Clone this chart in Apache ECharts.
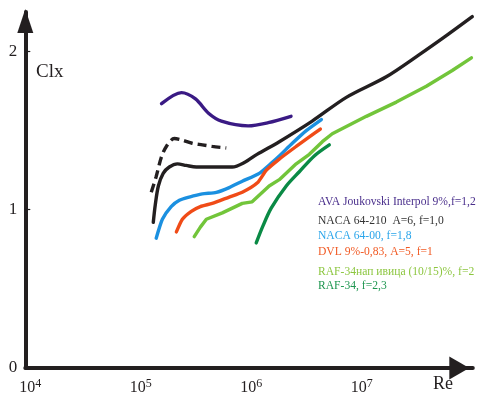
<!DOCTYPE html>
<html>
<head>
<meta charset="utf-8">
<script src="https://cdn.jsdelivr.net/npm/echarts@6/dist/echarts.min.js"></script>
<style>html,body{margin:0;padding:0;background:#fff}#c{width:479px;height:396px}</style>
</head>
<body>
<div id="c"></div>
<script>
// Re values and Clx values
const reAVA = [1.71e5, 2.59e5, 3.47e5, 4.55e5, 5.96e5, 1.04e6, 1.58e6, 2.54e6];
const clAVA = [1.67, 1.74, 1.70, 1.61, 1.56, 1.53, 1.55, 1.59];

const reN210 = [1.44e5, 1.50e5, 1.60e5, 1.77e5, 2.01e5, 2.38e5, 2.86e5, 3.53e5, 4.92e5, 7.46e5, 9.70e5, 1.25e6, 1.99e6, 3.95e6, 8.04e6, 1.85e7, 3.68e7, 6.46e7, 1.11e8];
const clN210 = [0.92, 1.03, 1.15, 1.23, 1.27, 1.29, 1.28, 1.27, 1.27, 1.27, 1.30, 1.35, 1.43, 1.56, 1.71, 1.84, 1.98, 2.10, 2.22];

const reN210d = [1.38e5, 1.53e5, 1.70e5, 1.89e5, 2.23e5, 2.64e5, 3.24e5, 4.00e5, 4.92e5, 6.59e5];
const clN210d = [1.11, 1.21, 1.33, 1.40, 1.45, 1.44, 1.42, 1.41, 1.40, 1.39];

const reN00 = [1.53e5, 1.74e5, 2.09e5, 2.48e5, 3.05e5, 4.00e5, 5.36e5, 7.01e5, 9.20e5, 1.31e6, 1.72e6, 1.99e6, 2.61e6, 3.49e6, 4.78e6];
const clN00 = [0.82, 0.94, 1.02, 1.06, 1.08, 1.10, 1.11, 1.14, 1.18, 1.23, 1.30, 1.34, 1.42, 1.50, 1.57];

const reDVL = [2.33e5, 2.64e5, 3.18e5, 3.84e5, 4.92e5, 7.01e5, 9.20e5, 1.26e6, 1.52e6, 1.99e6, 2.83e6, 3.72e6, 4.68e6];
const clDVL = [0.86, 0.94, 0.99, 1.02, 1.04, 1.08, 1.11, 1.17, 1.25, 1.32, 1.40, 1.46, 1.51];

const reRAFn = [3.38e5, 3.84e5, 4.35e5, 6.07e5, 9.20e5, 1.13e6, 1.61e6, 1.99e6, 2.83e6, 3.72e6, 4.88e6, 6.00e6, 1.22e7, 2.28e7, 4.26e7, 7.31e7, 1.09e8];
const clRAFn = [0.83, 0.89, 0.94, 0.98, 1.04, 1.05, 1.15, 1.19, 1.29, 1.35, 1.43, 1.48, 1.59, 1.68, 1.78, 1.88, 1.96];

const reRAF = [1.23e6, 1.40e6, 1.68e6, 2.30e6, 3.02e6, 4.12e6, 5.64e6];
const clRAF = [0.79, 0.89, 1.01, 1.15, 1.24, 1.34, 1.41];

const names = [
  'AVA Joukovski Interpol 9%,f=1,2',
  'NACA 64-210  A=6, f=1,0',
  'NACA 64-00, f=1,8',
  'DVL 9%-0,83, A=5, f=1',
  'RAF-34нап ивица (10/15)%, f=2',
  'RAF-34, f=2,3'
];
const yTicks = [0, 1, 2];
const xTickExps = [4, 5, 6, 7];

const lineColors = ['#3a1a84', '#231f20', '#1b90e0', '#f04b17', '#72c53a', '#0a8a45'];
const textColors = ['#4a2f8c', '#333333', '#2aa5ea', '#f15a24', '#8cc63f', '#1e9650'];
const legendTops = [195, 214, 229, 245, 265, 279];

function zip(xs, ys) { return xs.map((x, i) => [x, ys[i]]); }

const chart = echarts.init(document.getElementById('c'), null, {renderer: 'canvas'});
const serif = 'Liberation Serif';

function mkSeries(name, xs, ys, color, extra) {
  return Object.assign({
    name: name, type: 'line', data: zip(xs, ys), symbol: 'none', smooth: 0.3,
    lineStyle: {color: color, width: 3.4, cap: 'round'}, itemStyle: {color: color},
    clip: false
  }, extra || {});
}

const option = {
  animation: false,
  backgroundColor: '#fff',
  grid: {left: 25.3, right: 6.2, top: 11.9, bottom: 27.5},
  xAxis: {
    type: 'log', logBase: 10, min: 1e4, max: Math.pow(10, 8.05), interval: 1,
    axisLine: {show: true, lineStyle: {color: '#231f20', width: 4},
      symbol: ['none', 'triangle'], symbolSize: [23, 20], symbolOffset: [0, -13.5]},
    axisTick: {show: false},
    splitLine: {show: false},
    axisLabel: {
      margin: 10, showMaxLabel: false,
      formatter: function (v) {
        const e = Math.round(Math.log10(v));
        if (Math.abs(Math.log10(v) - e) > 1e-6 || xTickExps.indexOf(e) < 0) return '';
        return '{b|10}{s|' + e + '}';
      },
      rich: {
        b: {fontFamily: serif, fontSize: 16, lineHeight: 20, color: '#231f20', padding: [0, 0, 0, 10]},
        s: {fontFamily: serif, fontSize: 12, lineHeight: 10, verticalAlign: 'top', color: '#231f20'}
      }
    }
  },
  yAxis: {
    type: 'value', min: 0, max: 2.25, interval: 1,
    axisLine: {show: true, lineStyle: {color: '#231f20', width: 4},
      symbol: ['none', 'triangle'], symbolSize: [16, 24], symbolOffset: [0, -9]},
    axisTick: {show: true, inside: true, length: 5, lineStyle: {color: '#231f20', width: 1.2}},
    splitLine: {show: false},
    axisLabel: {
      margin: 8, showMaxLabel: false, fontFamily: serif, fontSize: 17, color: '#231f20',
      formatter: function (v) { return yTicks.indexOf(v) >= 0 ? String(v) : ''; }
    }
  },
  legend: names.map(function (n, i) {
    return {
      data: [{name: n, textStyle: {color: textColors[i]}}],
      orient: 'vertical', left: 313, top: legendTops[i], padding: 0,
      itemWidth: 0, itemHeight: 0, icon: 'rect', selectedMode: false,
      textStyle: {fontFamily: serif, fontSize: 11.6, lineHeight: 14, color: textColors[i]}
    };
  }),
  graphic: [
    {type: 'text', left: 36, top: 63, style: {text: 'Clx', font: '19px "Liberation Serif"', fill: '#231f20'}},
    {type: 'text', left: 433, top: 375, style: {text: 'Re', font: '18px "Liberation Serif"', fill: '#231f20'}}
  ],
  series: [
    mkSeries(names[0], reAVA, clAVA, lineColors[0]),
    mkSeries(names[1], reN210, clN210, lineColors[1]),
    mkSeries(names[1], reN210d, clN210d, lineColors[1], {lineStyle: {color: lineColors[1], width: 3.4, type: [9, 5]}}),
    mkSeries(names[2], reN00, clN00, lineColors[2], {smooth: 0.2}),
    mkSeries(names[3], reDVL, clDVL, lineColors[3], {smooth: 0.2}),
    mkSeries(names[4], reRAFn, clRAFn, lineColors[4], {smooth: false}),
    mkSeries(names[5], reRAF, clRAF, lineColors[5])
  ]
};
chart.setOption(option);
</script>
</body>
</html>
